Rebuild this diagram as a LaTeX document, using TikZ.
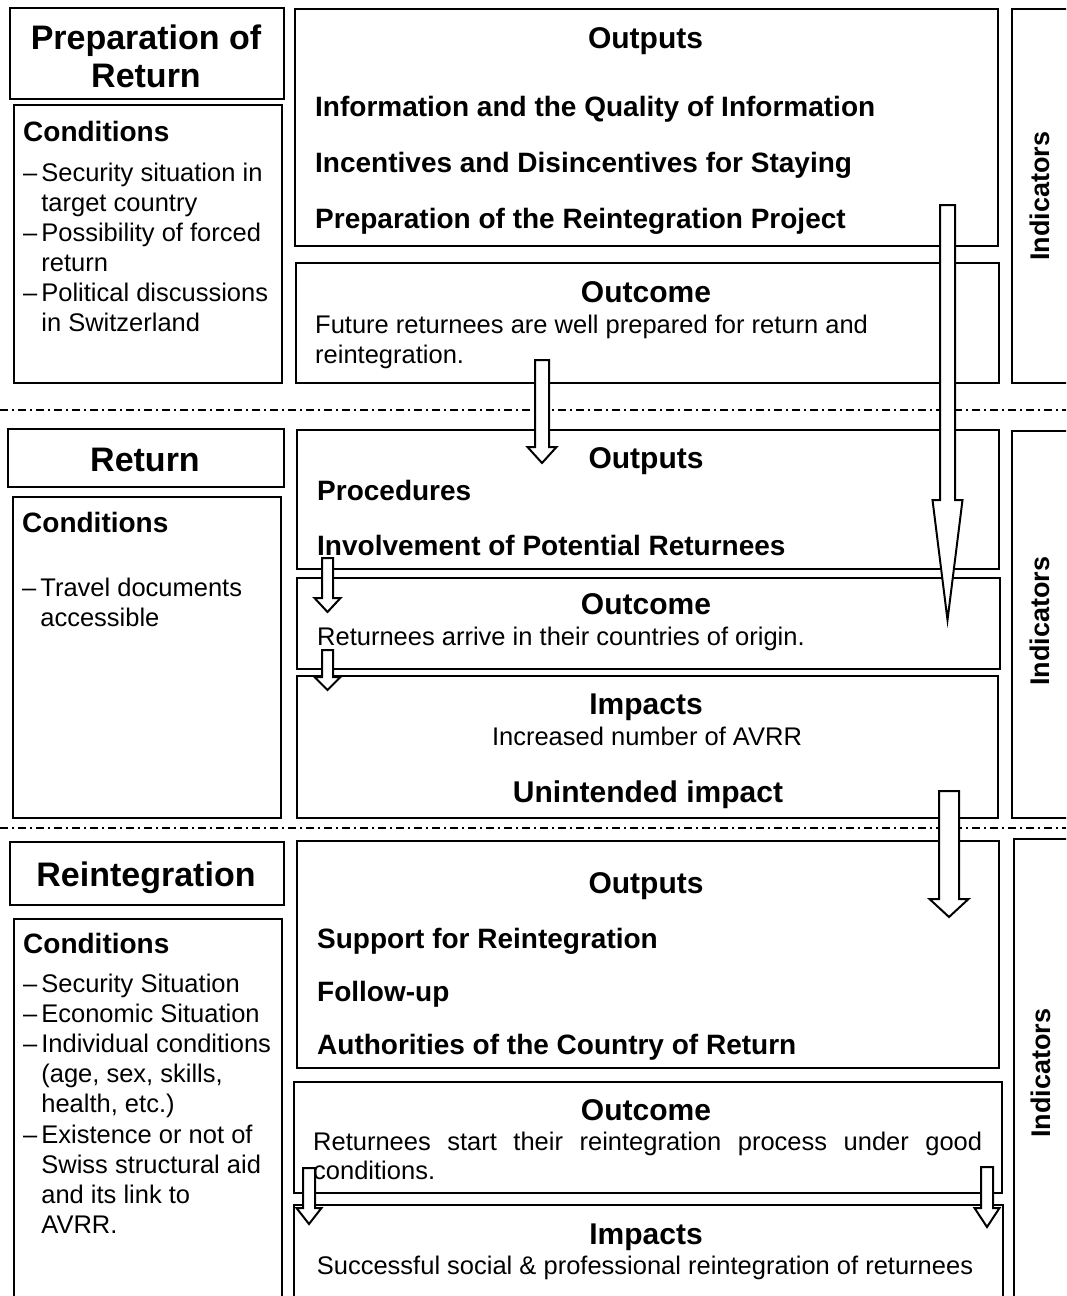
\documentclass[tikz,border=0pt]{standalone}
\usepackage{fontspec}
\setmainfont{Liberation Sans}
\begin{document}
\begin{tikzpicture}[x=1pt,y=-1pt,
  box/.style={draw, line width=2pt, inner sep=0pt, anchor=north west},
  ttl/.style={font=\fontsize{34}{38}\selectfont\bfseries, anchor=base, inner sep=0pt},
  hd/.style={font=\fontsize{30}{34}\selectfont\bfseries, anchor=base, inner sep=0pt},
  item/.style={font=\fontsize{28}{32}\selectfont\bfseries, anchor=base west, inner sep=0pt},
  body/.style={font=\fontsize{25.5}{30}\selectfont, anchor=base west, inner sep=0pt},
  bodyc/.style={font=\fontsize{25.5}{30}\selectfont, anchor=base, inner sep=0pt},
  ind/.style={font=\fontsize{27}{30}\selectfont\bfseries, rotate=90, inner sep=0pt},
  sep/.style={line width=1.3pt, dash pattern=on 8pt off 4pt on 2pt off 4pt},
  blk/.style={draw, fill=white, line width=2pt, line join=miter}
]
\newcommand\bx[5]{\node[box, minimum width={(#4-#2)*1pt}, minimum height={(#5-#3)*1pt}] (#1) at (#2,#3) {};}
\newcommand\blockarrow[6]{% cx, top, neck, tip, shaft half, head half
  \draw[blk] (#1-#5,#2) -- (#1+#5,#2) -- (#1+#5,#3) -- (#1+#6,#3) -- (#1,#4) -- (#1-#6,#3) -- (#1-#5,#3) -- cycle;}
\useasboundingbox (0,0) rectangle (1066,1296);
\clip (0,0) rectangle (1066,1296);
\fill[white] (0,0) rectangle (1066,1296);

% ---------- Section 1 ----------
\bx{title1}{9}{7}{283}{98}
\bx{cond1}{13}{104}{281}{382}
\bx{out1}{294}{8}{997}{245}
\bx{oc1}{295}{262}{998}{382}
\bx{ind1}{1011}{8}{1085}{382}

\node[ttl] (t1a) at (146,49) {Preparation of};
\node[ttl] (t1b) at (146,87) {Return};
\node[item] (c1h) at (23,141) {Conditions};
\node[body] (c1l) at (23,181) {\begin{tabular}[t]{@{}l@{\hspace{4pt}}l@{}}–&Security situation in\\ &target country\\ –&Possibility of forced\\ &return\\ –&Political discussions\\ &in Switzerland\end{tabular}};
\node[hd] (o1h) at (645.5,48) {Outputs};
\node[item] (o1a) at (315,116) {Information and the Quality of Information};
\node[item] (o1b) at (315,172) {Incentives and Disincentives for Staying};
\node[item] (o1c) at (315,228) {Preparation of the Reintegration Project};
\node[hd] (oc1h) at (646,302) {Outcome};
\node[body] (oc1a) at (315,333) {Future returnees are well prepared for return and};
\node[body] (oc1b) at (315,363) {reintegration.};
\node[ind] (i1) at (1040,196) {Indicators};

% ---------- Section 2 ----------
\bx{title2}{7}{428}{283}{486}
\bx{cond2}{12}{496}{280}{817}
\bx{out2}{296}{429}{998}{568}
\bx{oc2}{296}{577}{999}{668}
\bx{imp2}{296}{675}{997}{817}
\bx{ind2}{1011}{430}{1085}{817}

\node[ttl] (t2) at (145,471) {Return};
\node[item] (c2h) at (22,532) {Conditions};
\node[body] (c2l) at (22,596) {\begin{tabular}[t]{@{}l@{\hspace{4pt}}l@{}}–&Travel documents\\ &accessible\end{tabular}};
\node[hd] (o2h) at (646,468) {Outputs};
\node[item] (o2a) at (317,500) {Procedures};
\node[item] (o2b) at (317,555) {Involvement of Potential Returnees};
\node[hd] (oc2h) at (646,614) {Outcome};
\node[body] (oc2a) at (317,645) {Returnees arrive in their countries of origin.};
\node[hd] (im2h) at (646,714) {Impacts};
\node[bodyc] (im2a) at (647,745) {Increased number of AVRR};
\node[hd] (im2b) at (648,802) {Unintended impact};
\node[ind] (i2) at (1040,621) {Indicators};

% ---------- Section 3 ----------
\bx{title3}{9}{841}{283}{904}
\bx{cond3}{13}{918}{281}{1310}
\bx{out3}{296}{840}{998}{1067}
\bx{oc3}{293}{1081}{1001}{1192}
\bx{imp3}{293}{1204}{1002}{1310}
\bx{ind3}{1013}{838}{1085}{1310}

\node[ttl] (t3) at (146,886) {Reintegration};
\node[item] (c3h) at (23,953) {Conditions};
\node[body, font=\fontsize{25.5}{30.2}\selectfont] (c3l) at (23,992) {\begin{tabular}[t]{@{}l@{\hspace{4pt}}l@{}}–&Security Situation\\ –&Economic Situation\\ –&Individual conditions\\ &(age, sex, skills,\\ &health, etc.)\\ –&Existence or not of\\ &Swiss structural aid\\ &and its link to\\ &AVRR.\end{tabular}};
\node[hd] (o3h) at (646,893) {Outputs};
\node[item] (o3a) at (317,948) {Support for Reintegration};
\node[item] (o3b) at (317,1001) {Follow-up};
\node[item] (o3c) at (317,1054) {Authorities of the Country of Return};
\node[hd] (oc3h) at (646,1120) {Outcome};
\node[body] (oc3a) at (313,1150) {\makebox[669pt][s]{Returnees start their reintegration process under good}};
\node[body] (oc3b) at (313,1179) {conditions.};
\node[hd] (im3h) at (646,1244) {Impacts};
\node[bodyc] (im3a) at (645,1274) {Successful social \& professional reintegration of returnees};
\node[ind] (i3) at (1041,1073) {Indicators};

% ---------- separators ----------
\draw[sep] (0,410) -- (1066,410);
\draw[sep] (0,828) -- (1066,828);

% ---------- block arrows ----------
\blockarrow{947.5}{205}{500}{620}{7.5}{15}
\blockarrow{542}{360}{447}{463}{7}{14.5}
\blockarrow{327.5}{558}{598}{612}{5.5}{13}
\blockarrow{327.5}{650}{677}{690}{5.5}{13}
\blockarrow{949}{791}{899}{917}{10}{19.5}
\blockarrow{309}{1168}{1208}{1224}{6}{12.5}
\blockarrow{987}{1167}{1208}{1227}{6}{12.5}
\end{tikzpicture}
\end{document}
